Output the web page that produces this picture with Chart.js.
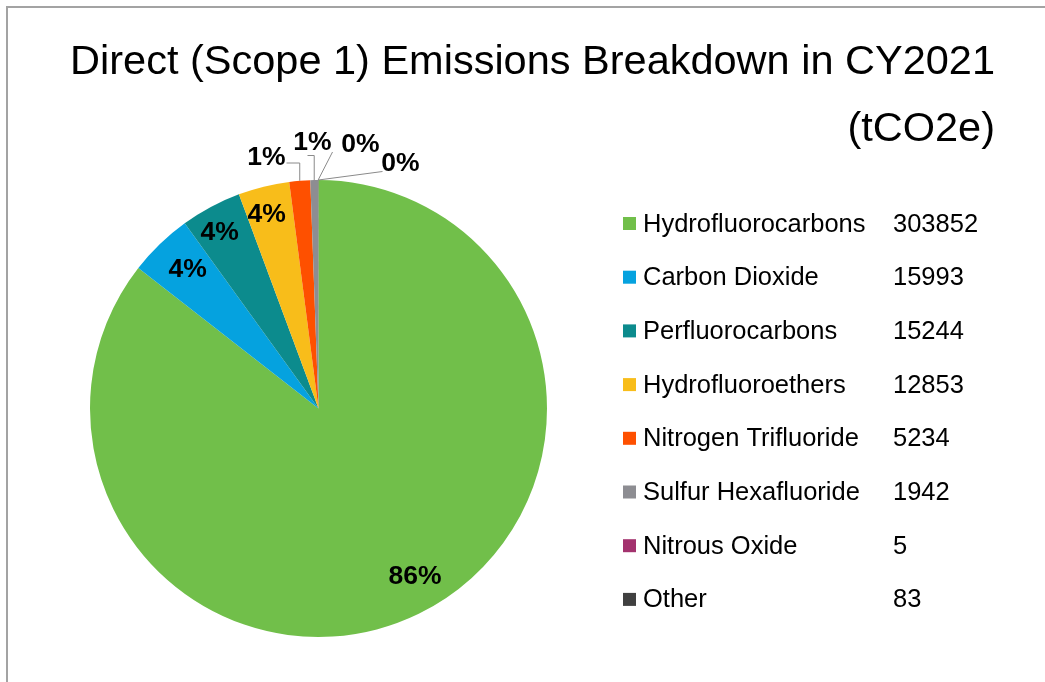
<!DOCTYPE html>
<html><head><meta charset="utf-8">
<script src="https://cdn.jsdelivr.net/npm/chart.js@4/dist/chart.umd.min.js"></script>
<style>
html,body{margin:0;padding:0;background:#fff;}
#wrap{position:relative;width:1045px;height:682px;overflow:hidden;background:#fff;}
#frame{position:absolute;left:6px;top:6px;width:2000px;height:2000px;border-left:2px solid #a3a3a3;border-top:2px solid #a3a3a3;}
canvas{position:absolute;left:0;top:0;}
</style></head><body>
<div id="wrap"><div id="frame"></div><canvas id="c" width="1045" height="682"></canvas></div>
<script>
const titleLines = ['Direct (Scope 1) Emissions Breakdown in CY2021', '(tCO2e)'];
const categories = ['Hydrofluorocarbons', 'Carbon Dioxide', 'Perfluorocarbons', 'Hydrofluoroethers',
  'Nitrogen Trifluoride', 'Sulfur Hexafluoride', 'Nitrous Oxide', 'Other'];
const emissions = [303852, 15993, 15244, 12853, 5234, 1942, 5, 83];
const percentLabels = ['86%', '4%', '4%', '4%', '1%', '1%', '0%', '0%'];
const sliceColors = ['#71BF4A', '#05A2DF', '#0C8B8D', '#F8BD1A', '#FE5000', '#8D8D92', '#A3326E', '#404040'];

// label placement styles (inside: radius fraction + angle tweak; outside: offset from pie top + leader end)
const labelStyle = [
  {inside: true, rf: 0.845, da: -4},
  {inside: true, rf: 0.84, da: 1},
  {inside: true, rf: 0.89, da: -1},
  {inside: true, rf: 0.885, da: -1},
  {inside: false, dx: -52, dy: -22.5, ex: 20, ey: 5.5, elbow: true},
  {inside: false, dx: -6, dy: -37.5, ex: -5, ey: 13, elbow: true},
  {inside: false, dx: 42, dy: -35, ex: -28, ey: 7, elbow: false},
  {inside: false, dx: 82, dy: -16.5, ex: -18, ey: 8, elbow: false}
];

const FONT = '"Liberation Sans", Arial, Helvetica, sans-serif';

const overlay = {
  id: 'overlay',
  afterDraw(chart) {
    const ctx = chart.ctx;
    ctx.save();
    // title
    ctx.fillStyle = '#000';
    ctx.font = '41.5px ' + FONT;
    ctx.textAlign = 'right';
    ctx.textBaseline = 'alphabetic';
    titleLines.forEach((t, i) => ctx.fillText(t, 995, 74 + i * 67));

    // legend with values
    ctx.font = '25.5px ' + FONT;
    ctx.textBaseline = 'middle';
    categories.forEach((c, i) => {
      const y = 223.5 + i * 53.7;
      ctx.fillStyle = sliceColors[i];
      ctx.fillRect(623, y - 6.5, 13, 13);
      ctx.fillStyle = '#000';
      ctx.textAlign = 'left';
      ctx.fillText(c, 643, y + 1);
      ctx.fillText(String(emissions[i]), 893, y + 1);
    });

    // data labels
    const meta = chart.getDatasetMeta(0);
    ctx.font = 'bold 26.5px ' + FONT;
    ctx.textAlign = 'center';
    ctx.textBaseline = 'middle';
    meta.data.forEach((arc, i) => {
      const p = arc.getProps(['x', 'y', 'startAngle', 'endAngle', 'outerRadius'], true);
      const s = labelStyle[i];
      const mid = (p.startAngle + p.endAngle) / 2;
      if (s.inside) {
        const a = mid + s.da * Math.PI / 180;
        const r = p.outerRadius * s.rf;
        ctx.fillStyle = '#000';
        ctx.fillText(percentLabels[i], p.x + r * Math.cos(a), p.y + r * Math.sin(a) + 1.5);
      } else {
        const topX = p.x, topY = p.y - p.outerRadius;
        const lx = topX + s.dx, ly = topY + s.dy;
        const ax = p.x + p.outerRadius * Math.cos(mid);
        const ay = p.y + p.outerRadius * Math.sin(mid);
        const ex = lx + s.ex, ey = ly + s.ey;
        ctx.strokeStyle = '#8a8a8a';
        ctx.lineWidth = 1;
        ctx.beginPath();
        ctx.moveTo(ax, ay);
        if (s.elbow) { ctx.lineTo(ax, ey); ctx.lineTo(ex, ey); }
        else ctx.lineTo(ex, ey);
        ctx.stroke();
        ctx.fillStyle = '#000';
        ctx.fillText(percentLabels[i], lx, ly);
      }
    });
    ctx.restore();
  }
};

new Chart(document.getElementById('c'), {
  type: 'pie',
  data: {
    labels: categories,
    datasets: [{
      data: emissions,
      backgroundColor: sliceColors,
      borderWidth: 0
    }]
  },
  options: {
    responsive: false,
    animation: false,
    layout: {padding: {left: 90, right: 498, top: 180, bottom: 45}},
    plugins: {
      legend: {display: false},
      title: {display: false},
      tooltip: {enabled: false}
    }
  },
  plugins: [overlay]
});
</script>
</body></html>
